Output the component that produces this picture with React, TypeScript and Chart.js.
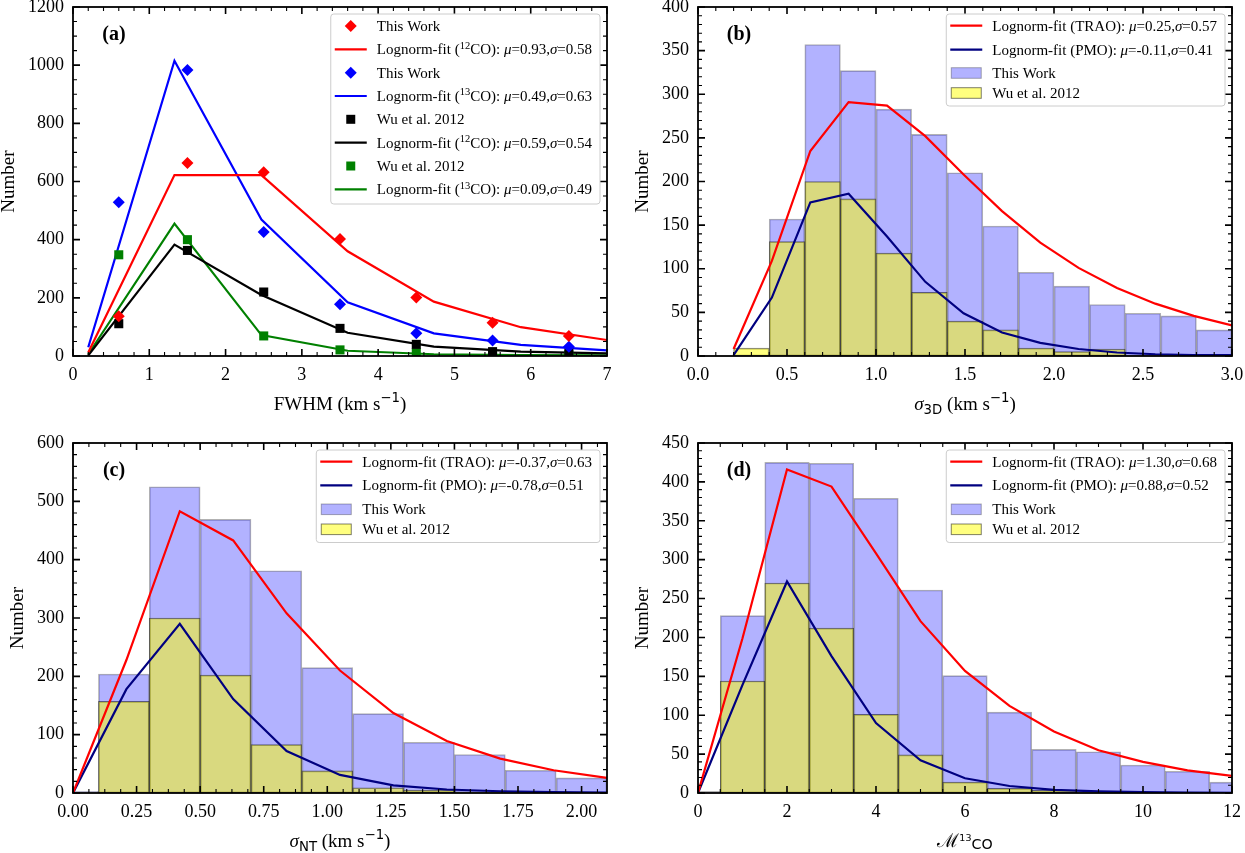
import { useEffect, useRef } from "react";
import { Chart, registerables } from "chart.js";

Chart.register(...registerables);

const SERIF = '"Liberation Serif", "Times New Roman", Times, serif';
const SANS = '"DejaVu Sans", sans-serif';

// ---- (a) FWHM distributions ----
const fwhmCenters = [0.6, 1.5, 2.5, 3.5, 4.5, 5.5, 6.5];
const fwhmThis12 = [137, 664, 632, 402, 201, 114, 69];
const fwhmThis13 = [529, 983, 426, 178, 78, 53, 32];
const fwhmWu12 = [111, 363, 220, 95, 40, 15, 10];
const fwhmWu13 = [348, 400, 69, 21, 11, 5, 4];
const fwhmFitX = [0.2, 1.33, 2.47, 3.6, 4.73, 5.87, 7.0];
const fwhmFit12 = [12, 622, 622, 360, 187, 99, 55];
const fwhmFit13 = [30, 1015, 469, 185, 78, 38, 19];
const fwhmFitWu12 = [2, 383, 210, 80, 32, 15, 9];
const fwhmFitWu13 = [6, 455, 72, 18, 6, 3, 2];
const fwhmXTicks = [0, 1, 2, 3, 4, 5, 6, 7];
const fwhmYTicks = [0, 200, 400, 600, 800, 1000, 1200];

// ---- (b) sigma_3D ----
const s3dCenters = [0.3, 0.5, 0.7, 0.9, 1.1, 1.3, 1.5, 1.7, 1.9, 2.1, 2.3, 2.5, 2.7, 2.9];
const s3dThis = [0, 157, 357, 327, 283, 254, 210, 149, 96, 80, 59, 49, 46, 30];
const s3dWu = [9, 131, 200, 180, 118, 73, 40, 30, 9, 5, 8, 0, 0, 0];
const s3dFitX = [0.2, 0.415, 0.631, 0.846, 1.062, 1.277, 1.492, 1.708, 1.923, 2.138, 2.354, 2.569, 2.785, 3.0];
const s3dFitTrao = [8, 109, 235, 291, 287, 252, 208, 166, 130, 101, 78, 60, 46, 35];
const s3dFitPmo = [1, 67, 176, 186, 137, 85, 49, 27, 15, 8, 4, 2, 1, 1];
const s3dXTicks = [0, 0.5, 1.0, 1.5, 2.0, 2.5, 3.0];
const s3dYTicks = [0, 50, 100, 150, 200, 250, 300, 350, 400];

// ---- (c) sigma_NT ----
const sntCenters = [0, 0.2, 0.4, 0.6, 0.8, 1.0, 1.2, 1.4, 1.6, 1.8, 2.0];
const sntThis = [3, 204, 525, 469, 381, 215, 136, 87, 66, 39, 26];
const sntWu = [0, 157, 300, 202, 83, 38, 9, 5, 2, 0, 0];
const sntFitX = [0, 0.21, 0.42, 0.63, 0.84, 1.05, 1.26, 1.47, 1.68, 1.89, 2.1];
const sntFitTrao = [0, 228, 483, 433, 308, 210, 137, 89, 59, 39, 26];
const sntFitPmo = [0, 178, 290, 161, 72, 31, 13, 6, 3, 1.4, 0.7];
const sntXTicks = [0, 0.25, 0.5, 0.75, 1.0, 1.25, 1.5, 1.75, 2.0];
const sntYTicks = [0, 100, 200, 300, 400, 500, 600];

// ---- (d) Mach number ----
const machCenters = [0, 1, 2, 3, 4, 5, 6, 7, 8, 9, 10, 11, 12];
const machThis = [2, 228, 425, 424, 379, 261, 151, 104, 56, 53, 36, 28, 14];
const machWu = [0, 144, 270, 212, 101, 49, 14, 6, 3.5, 1, 1, 0, 0];
const machFitX = [0, 1, 2, 3, 4, 5, 6, 7, 8, 9, 10, 11, 12];
const machFitTrao = [0, 199, 416, 394, 308, 221, 157, 112, 79, 55, 40, 29, 22];
const machFitPmo = [0, 139, 272, 176, 90, 42, 19, 9, 4, 2, 1, 0.5, 0.3];
const machXTicks = [0, 2, 4, 6, 8, 10, 12];
const machYTicks = [0, 50, 100, 150, 200, 250, 300, 350, 400, 450];

const BLUE_FILL = "rgba(0, 0, 255, 0.3)";
const BLUE_EDGE = "rgba(0, 0, 0, 0.3)";
const YEL_FILL = "rgba(255, 255, 0, 0.5)";
const YEL_EDGE = "rgba(0, 0, 0, 0.5)";

type Seg = { t: string; s?: number; dy?: number; it?: boolean; sans?: boolean };

interface PanelSpec {
  box: { left: number; top: number; w: number; h: number };
  area: { l: number; t: number; r: number; b: number };
  tag: string;
  type: "scatter" | "bar";
  xTitle: Seg[];
  xMax: number;
  xTicks: number[];
  xMinor: number;
  xDec: number;
  yMax: number;
  yTicks: number[];
  yMinor: number;
  legendRows: number[];
  legendH: number;
  datasets: any[];
}

const pts = (xs: number[], ys: number[]) => xs.map((x, i) => ({ x, y: ys[i] }));

const fitLine = (label: string, xs: number[], ys: number[], color: string) => ({
  type: "line",
  label,
  data: pts(xs, ys),
  borderColor: color,
  backgroundColor: color,
  borderWidth: 2.2,
  pointRadius: 0,
  tension: 0,
  fill: false,
  order: 1,
});

const markers = (label: string, xs: number[], ys: number[], color: string, style: string) => ({
  type: "scatter",
  label,
  data: pts(xs, ys),
  showLine: false,
  pointStyle: style,
  pointRadius: style === "rectRot" ? 6 : 6.4,
  pointBackgroundColor: color,
  pointBorderColor: color,
  pointBorderWidth: 0,
  backgroundColor: color,
  borderColor: color,
  order: 0,
});

const hist = (label: string, xs: number[], ys: number[], fill: string, edge: string, order: number) => ({
  type: "bar",
  label,
  data: xs.map((x, i) => ({ x, y: ys[i] || null })),
  backgroundColor: fill,
  borderColor: edge,
  borderWidth: 1,
  borderSkipped: false,
  barPercentage: 1,
  categoryPercentage: 1,
  grouped: false,
  order,
});

const kms = (): Seg[] => [{ t: " (km s" }, { t: "−1", s: 0.7, dy: -0.42, sans: true }, { t: ")" }];

const panels: PanelSpec[] = [
  {
    box: { left: 0, top: 0, w: 623, h: 430 },
    area: { l: 73, t: 7, r: 607, b: 356 },
    tag: "(a)",
    type: "scatter",
    xTitle: [{ t: "FWHM" }, ...kms()],
    xMax: 7,
    xTicks: fwhmXTicks,
    xMinor: 0.2,
    xDec: 0,
    yMax: 1200,
    yTicks: fwhmYTicks,
    yMinor: 50,
    legendRows: [12, 35.3, 58.7, 82, 105.3, 128.6, 152, 175.3],
    legendH: 190,
    datasets: [
      markers("This Work", fwhmCenters, fwhmThis12, "#ff0000", "rectRot"),
      fitLine("Lognorm-fit (^{12}CO): μ=0.93,σ=0.58", fwhmFitX, fwhmFit12, "#ff0000"),
      markers("This Work", fwhmCenters, fwhmThis13, "#0000ff", "rectRot"),
      fitLine("Lognorm-fit (^{13}CO): μ=0.49,σ=0.63", fwhmFitX, fwhmFit13, "#0000ff"),
      markers("Wu et al. 2012", fwhmCenters, fwhmWu12, "#000000", "rect"),
      fitLine("Lognorm-fit (^{12}CO): μ=0.59,σ=0.54", fwhmFitX, fwhmFitWu12, "#000000"),
      markers("Wu et al. 2012", fwhmCenters, fwhmWu13, "#008000", "rect"),
      fitLine("Lognorm-fit (^{13}CO): μ=0.09,σ=0.49", fwhmFitX, fwhmFitWu13, "#008000"),
    ],
  },
  {
    box: { left: 623, top: 0, w: 622, h: 430 },
    area: { l: 698, t: 7, r: 1232, b: 356 },
    tag: "(b)",
    type: "bar",
    xTitle: [{ t: "σ", it: true }, { t: "3D", s: 0.7, dy: 0.22, sans: true }, ...kms()],
    xMax: 3,
    xTicks: s3dXTicks,
    xMinor: 0.1,
    xDec: 1,
    yMax: 400,
    yTicks: s3dYTicks,
    yMinor: 10,
    legendRows: [11.7, 35.6, 59, 79],
    legendH: 92,
    datasets: [
      fitLine("Lognorm-fit (TRAO): μ=0.25,σ=0.57", s3dFitX, s3dFitTrao, "#ff0000"),
      fitLine("Lognorm-fit (PMO): μ=-0.11,σ=0.41", s3dFitX, s3dFitPmo, "#000080"),
      hist("This Work", s3dCenters, s3dThis, BLUE_FILL, BLUE_EDGE, 3),
      hist("Wu et al. 2012", s3dCenters, s3dWu, YEL_FILL, YEL_EDGE, 2),
    ],
  },
  {
    box: { left: 0, top: 430, w: 623, h: 423 },
    area: { l: 73, t: 443, r: 607, b: 793 },
    tag: "(c)",
    type: "bar",
    xTitle: [{ t: "σ", it: true }, { t: "NT", s: 0.7, dy: 0.22, sans: true }, ...kms()],
    xMax: 2.1,
    xTicks: sntXTicks,
    xMinor: 0.0625,
    xDec: 2,
    yMax: 600,
    yTicks: sntYTicks,
    yMinor: 20,
    legendRows: [11.7, 35.4, 59.3, 79.3],
    legendH: 92.5,
    datasets: [
      fitLine("Lognorm-fit (TRAO): μ=-0.37,σ=0.63", sntFitX, sntFitTrao, "#ff0000"),
      fitLine("Lognorm-fit (PMO): μ=-0.78,σ=0.51", sntFitX, sntFitPmo, "#000080"),
      hist("This Work", sntCenters, sntThis, BLUE_FILL, BLUE_EDGE, 3),
      hist("Wu et al. 2012", sntCenters, sntWu, YEL_FILL, YEL_EDGE, 2),
    ],
  },
  {
    box: { left: 623, top: 430, w: 622, h: 423 },
    area: { l: 698, t: 443, r: 1232, b: 793 },
    tag: "(d)",
    type: "bar",
    xTitle: [{ t: "ℳ" }, { t: "13", s: 0.5, dy: -0.3, sans: true }, { t: "CO", s: 0.75, dy: 0.12, sans: true }],
    xMax: 12,
    xTicks: machXTicks,
    xMinor: 0.5,
    xDec: 0,
    yMax: 450,
    yTicks: machYTicks,
    yMinor: 10,
    legendRows: [11.7, 35.4, 59.3, 79.3],
    legendH: 92.5,
    datasets: [
      fitLine("Lognorm-fit (TRAO): μ=1.30,σ=0.68", machFitX, machFitTrao, "#ff0000"),
      fitLine("Lognorm-fit (PMO): μ=0.88,σ=0.52", machFitX, machFitPmo, "#000080"),
      hist("This Work", machCenters, machThis, BLUE_FILL, BLUE_EDGE, 3),
      hist("Wu et al. 2012", machCenters, machWu, YEL_FILL, YEL_EDGE, 2),
    ],
  },
];

// "^{12}" -> superscript, greek letters in italic
function parseRich(label: string): Seg[] {
  const out: Seg[] = [];
  let buf = "";
  const flush = () => {
    if (buf) out.push({ t: buf });
    buf = "";
  };
  for (let i = 0; i < label.length; i++) {
    const c = label[i];
    if (c === "^" && label[i + 1] === "{") {
      flush();
      const end = label.indexOf("}", i);
      out.push({ t: label.slice(i + 2, end), s: 0.7, dy: -0.38 });
      i = end;
    } else if (c === "μ" || c === "σ") {
      flush();
      out.push({ t: c, it: true });
    } else {
      buf += c;
    }
  }
  flush();
  return out;
}

const segFont = (g: Seg, size: number) =>
  `${g.it ? "italic " : ""}${(size * (g.s ?? 1)).toFixed(2)}px ${g.sans ? SANS : SERIF}`;

function richWidth(ctx: CanvasRenderingContext2D, segs: Seg[], size: number) {
  let w = 0;
  for (const g of segs) {
    ctx.font = segFont(g, size);
    w += ctx.measureText(g.t).width;
  }
  return w;
}

function drawRich(ctx: CanvasRenderingContext2D, segs: Seg[], x: number, base: number, size: number) {
  ctx.textAlign = "left";
  ctx.textBaseline = "alphabetic";
  let cx = x;
  for (const g of segs) {
    ctx.font = segFont(g, size);
    ctx.fillText(g.t, cx, base + (g.dy ?? 0) * size);
    cx += ctx.measureText(g.t).width;
  }
}

function makeDecor(spec: PanelSpec) {
  return {
    id: "decor",
    afterDraw(chart: any) {
      const ctx: CanvasRenderingContext2D = chart.ctx;
      const a = chart.chartArea;
      const xs = chart.scales.x;
      const ys = chart.scales.y;
      ctx.save();
      ctx.strokeStyle = "#000";
      ctx.fillStyle = "#000";

      const run = (max: number, minor: number, major: number, horiz: boolean) => {
        const n = Math.floor(max / minor + 1e-6);
        for (let i = 0; i <= n; i++) {
          const v = i * minor;
          const isMajor = Math.abs(v / major - Math.round(v / major)) < 1e-6;
          const len = isMajor ? 7 : 4;
          ctx.lineWidth = isMajor ? 1.6 : 1.1;
          ctx.beginPath();
          if (horiz) {
            const p = xs.getPixelForValue(v);
            ctx.moveTo(p, a.bottom);
            ctx.lineTo(p, a.bottom - len);
            ctx.moveTo(p, a.top);
            ctx.lineTo(p, a.top + len);
          } else {
            const p = ys.getPixelForValue(v);
            ctx.moveTo(a.left, p);
            ctx.lineTo(a.left + len, p);
            ctx.moveTo(a.right, p);
            ctx.lineTo(a.right - len, p);
          }
          ctx.stroke();
        }
      };
      run(spec.xMax, spec.xMinor, spec.xTicks[1] - spec.xTicks[0], true);
      run(spec.yMax, spec.yMinor, spec.yTicks[1] - spec.yTicks[0], false);

      ctx.lineWidth = 1.8;
      ctx.strokeRect(a.left, a.top, a.right - a.left, a.bottom - a.top);

      // panel tag
      ctx.font = `bold 20px ${SERIF}`;
      ctx.textAlign = "center";
      ctx.textBaseline = "middle";
      ctx.fillText(spec.tag, a.left + 41, a.top + 28);

      // axis titles
      const tSize = 19;
      const tw = richWidth(ctx, spec.xTitle, tSize);
      drawRich(ctx, spec.xTitle, (a.left + a.right) / 2 - tw / 2, a.bottom + 54, tSize);

      ctx.font = `18px ${SERIF}`;
      let maxLab = 0;
      for (const v of spec.yTicks) maxLab = Math.max(maxLab, ctx.measureText(String(v)).width);
      ctx.save();
      ctx.translate(a.left - 9 - maxLab - 19, (a.top + a.bottom) / 2);
      ctx.rotate(-Math.PI / 2);
      ctx.font = `${tSize}px ${SERIF}`;
      ctx.textAlign = "center";
      ctx.textBaseline = "middle";
      ctx.fillText("Number", 0, 0);
      ctx.restore();

      // legend
      const lSize = 15;
      const items = chart.data.datasets.map((ds: any) => ({ ds, segs: parseRich(ds.label) }));
      let maxW = 0;
      for (const it of items) maxW = Math.max(maxW, richWidth(ctx, it.segs, lSize));
      const bw = 46 + maxW + 8;
      const bx = a.right - 7 - bw;
      const by = a.top + 7;
      ctx.beginPath();
      ctx.roundRect(bx, by, bw, spec.legendH, 3);
      ctx.fillStyle = "rgba(255,255,255,0.8)";
      ctx.fill();
      ctx.strokeStyle = "#cccccc";
      ctx.lineWidth = 1;
      ctx.stroke();

      items.forEach((it: any, i: number) => {
        const cy = by + spec.legendRows[i];
        const ds = it.ds;
        if (ds.type === "bar") {
          ctx.fillStyle = ds.backgroundColor;
          ctx.fillRect(bx + 5, cy - 5.3, 30, 10.6);
          ctx.strokeStyle = ds.borderColor;
          ctx.lineWidth = 1;
          ctx.strokeRect(bx + 5, cy - 5.3, 30, 10.6);
        } else if (ds.type === "scatter") {
          const mx = bx + 20;
          ctx.fillStyle = ds.pointBackgroundColor;
          ctx.beginPath();
          if (ds.pointStyle === "rectRot") {
            ctx.moveTo(mx - 6, cy);
            ctx.lineTo(mx, cy - 6);
            ctx.lineTo(mx + 6, cy);
            ctx.lineTo(mx, cy + 6);
            ctx.closePath();
          } else {
            ctx.rect(mx - 4.5, cy - 4.5, 9, 9);
          }
          ctx.fill();
        } else {
          ctx.strokeStyle = ds.borderColor;
          ctx.lineWidth = 2.2;
          ctx.beginPath();
          ctx.moveTo(bx + 4, cy);
          ctx.lineTo(bx + 36, cy);
          ctx.stroke();
        }
        ctx.fillStyle = "#000";
        drawRich(ctx, it.segs, bx + 46, cy + 5, lSize);
      });
      ctx.restore();
    },
  };
}

function Panel({ spec }: { spec: PanelSpec }) {
  const canvasRef = useRef<HTMLCanvasElement | null>(null);

  useEffect(() => {
    if (!canvasRef.current) return;
    const { box, area } = spec;
    const xH = 40;
    const tickFont = { family: SERIF, size: 18 };

    const chart = new Chart(canvasRef.current, {
      type: spec.type,
      data: { datasets: spec.datasets },
      options: {
        animation: false,
        responsive: false,
        events: [],
        layout: {
          padding: {
            left: 0,
            top: area.t - box.top,
            right: box.left + box.w - area.r,
            bottom: box.top + box.h - area.b - xH,
          },
        },
        scales: {
          x: {
            type: "linear",
            min: 0,
            max: spec.xMax,
            offset: false,
            afterBuildTicks: (s: any) => {
              s.ticks = spec.xTicks.map((v) => ({ value: v }));
            },
            afterFit: (s: any) => {
              s.height = xH;
              s.paddingLeft = 0;
              s.paddingRight = 0;
            },
            ticks: {
              font: tickFont,
              color: "#000",
              padding: 8,
              maxRotation: 0,
              autoSkip: false,
              callback: (v: any) => Number(v).toFixed(spec.xDec),
            },
            grid: { display: false, drawTicks: false },
            border: { display: false },
          },
          y: {
            type: "linear",
            min: 0,
            max: spec.yMax,
            afterBuildTicks: (s: any) => {
              s.ticks = spec.yTicks.map((v) => ({ value: v }));
            },
            afterFit: (s: any) => {
              s.width = area.l - box.left;
              s.paddingTop = 0;
              s.paddingBottom = 0;
            },
            ticks: {
              font: tickFont,
              color: "#000",
              padding: 9,
              autoSkip: false,
              callback: (v: any) => String(v),
            },
            grid: { display: false, drawTicks: false },
            border: { display: false },
          },
        },
        plugins: {
          legend: { display: false },
          tooltip: { enabled: false },
        },
      } as any,
      plugins: [makeDecor(spec) as any],
    });

    return () => chart.destroy();
  }, [spec]);

  const { box } = spec;
  return (
    <div style={{ position: "absolute", left: box.left, top: box.top, width: box.w, height: box.h }}>
      <canvas ref={canvasRef} width={box.w} height={box.h} style={{ display: "block" }} />
    </div>
  );
}

export default function App() {
  return (
    <div style={{ position: "fixed", left: 0, top: 0, width: 1245, height: 853, background: "#fff" }}>
      {panels.map((p) => (
        <Panel key={p.tag} spec={p} />
      ))}
    </div>
  );
}
